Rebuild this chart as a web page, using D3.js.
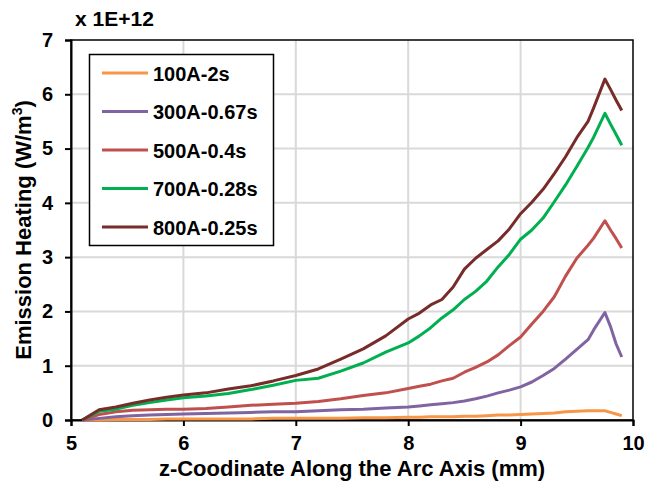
<!DOCTYPE html>
<html>
<head>
<meta charset="utf-8">
<script src="https://cdn.jsdelivr.net/npm/d3@7"></script>
<style>
  body { margin: 0; background: #fff; }
  text { font-family: "Liberation Sans", Arial, sans-serif; font-weight: bold; fill: #000; }
</style>
</head>
<body>
<div id="container"></div>
<script>
var width = 646;
var height = 486;

// z-coordinate (mm), shared by all series
var zvals = [5.1, 5.25, 5.4, 5.55, 5.7, 5.85, 6.0, 6.2, 6.4, 6.6, 6.8, 7.0, 7.2, 7.4, 7.6, 7.8, 8.0,
  8.1, 8.2, 8.3, 8.4, 8.5, 8.6, 8.7, 8.8, 8.9, 9.0, 9.1, 9.2, 9.3, 9.4, 9.5, 9.6, 9.65, 9.75, 9.8, 9.85, 9.9];

// emission heating, x 1E+12 W/m3
var a100 = [0, 0.0, 0.01, 0.01, 0.01, 0.02, 0.02, 0.02, 0.02, 0.02, 0.03, 0.03, 0.03, 0.03, 0.04, 0.04, 0.05,
  0.05, 0.06, 0.06, 0.06, 0.07, 0.07, 0.08, 0.09, 0.09, 0.10, 0.11, 0.12, 0.13, 0.15, 0.16, 0.17, 0.17, 0.17, 0.14, 0.11, 0.08];
var a300 = [0, 0.03, 0.06, 0.08, 0.09, 0.10, 0.11, 0.12, 0.13, 0.14, 0.15, 0.15, 0.17, 0.19, 0.20, 0.22, 0.24,
  0.26, 0.28, 0.30, 0.32, 0.35, 0.39, 0.44, 0.50, 0.55, 0.61, 0.70, 0.82, 0.95, 1.12, 1.30, 1.48, 1.66, 1.98, 1.72, 1.40, 1.16];
var a500 = [0, 0.10, 0.15, 0.18, 0.19, 0.20, 0.20, 0.21, 0.24, 0.27, 0.29, 0.31, 0.34, 0.39, 0.45, 0.50, 0.58,
  0.62, 0.66, 0.72, 0.77, 0.88, 0.97, 1.07, 1.20, 1.37, 1.53, 1.77, 2.00, 2.27, 2.65, 2.98, 3.22, 3.35, 3.67, 3.50, 3.34, 3.17];
var a700 = [0, 0.16, 0.20, 0.27, 0.32, 0.37, 0.41, 0.44, 0.49, 0.56, 0.64, 0.73, 0.77, 0.90, 1.05, 1.25, 1.42,
  1.55, 1.70, 1.88, 2.03, 2.22, 2.37, 2.56, 2.82, 3.05, 3.33, 3.50, 3.72, 4.02, 4.33, 4.67, 5.02, 5.21, 5.65, 5.45, 5.26, 5.06];
var a800 = [0, 0.19, 0.24, 0.31, 0.37, 0.42, 0.46, 0.50, 0.57, 0.63, 0.72, 0.82, 0.94, 1.12, 1.31, 1.55, 1.86,
  1.97, 2.12, 2.22, 2.45, 2.78, 2.98, 3.14, 3.30, 3.52, 3.80, 4.01, 4.25, 4.54, 4.85, 5.20, 5.50, 5.75, 6.28, 6.09, 5.89, 5.70];

var names = ["100A-2s", "300A-0.67s", "500A-0.4s", "700A-0.28s", "800A-0.25s"];
var colors = ["#F79646", "#8064A2", "#C0504D", "#00B050", "#772C2A"];
var xticks = [5, 6, 7, 8, 9, 10];
var yticks = [0, 1, 2, 3, 4, 5, 6, 7];

var series = [a100, a300, a500, a700, a800].map(function(vals, i){
  return { name: names[i], color: colors[i], pts: zvals.map(function(z, j){ return [z, vals[j]]; }) };
});

var pLeft = 71, pRight = 633, pTop = 40, pBottom = 420;

var x = d3.scaleLinear().domain([5, 10]).range([pLeft, pRight]);
var y = d3.scaleLinear().domain([0, 7]).range([pBottom, pTop]);

var svg = d3.select('div#container')
  .append('svg')
  .attr('width', width)
  .attr('height', height);

// gridlines
svg.append('g').selectAll('line')
  .data(yticks.slice(1, -1))
  .enter().append('line')
  .attr('x1', pLeft).attr('x2', pRight)
  .attr('y1', function(d){ return y(d); }).attr('y2', function(d){ return y(d); })
  .attr('stroke', '#d9d9d9').attr('stroke-width', 2);
svg.append('g').selectAll('line')
  .data(xticks.slice(1, -1))
  .enter().append('line')
  .attr('y1', pTop).attr('y2', pBottom)
  .attr('x1', function(d){ return x(d); }).attr('x2', function(d){ return x(d); })
  .attr('stroke', '#d9d9d9').attr('stroke-width', 2);

// plot frame
svg.append('rect')
  .attr('x', pLeft).attr('y', pTop)
  .attr('width', pRight - pLeft).attr('height', pBottom - pTop)
  .attr('fill', 'none').attr('stroke', '#000').attr('stroke-width', 1.5);

// axes
var xAxis = svg.append('g')
  .attr('transform', 'translate(0,' + pBottom + ')')
  .call(d3.axisBottom(x).tickValues(xticks).tickSize(6).tickPadding(10).tickFormat(d3.format('d')));
var yAxis = svg.append('g')
  .attr('transform', 'translate(' + pLeft + ',0)')
  .call(d3.axisLeft(y).tickValues(yticks).tickSize(6).tickPadding(12).tickFormat(d3.format('d')));
[xAxis, yAxis].forEach(function(ax){
  ax.select('.domain').attr('stroke', '#000').attr('stroke-width', 2);
  ax.selectAll('.tick line').attr('stroke', '#000').attr('stroke-width', 2);
  ax.selectAll('.tick text').style('font-size', '20px').style('font-weight', 'bold')
    .style('font-family', '"Liberation Sans", Arial, sans-serif').attr('fill', '#000');
});

// lines
var line = d3.line()
  .x(function(d){ return x(d[0]); })
  .y(function(d){ return y(d[1]); });

svg.append('g').selectAll('path')
  .data(series)
  .enter().append('path')
  .attr('d', function(d){ return line(d.pts); })
  .attr('fill', 'none')
  .attr('stroke', function(d){ return d.color; })
  .attr('stroke-width', 3)
  .attr('stroke-linejoin', 'round');

// legend
var lg = svg.append('g');
lg.append('rect')
  .attr('x', 89.5).attr('y', 54.5).attr('width', 184).attr('height', 191)
  .attr('fill', '#fff').attr('stroke', '#000').attr('stroke-width', 1.5);
var items = lg.selectAll('g.item')
  .data(series)
  .enter().append('g')
  .attr('transform', function(d, i){ return 'translate(0,' + (73 + i * 38.5) + ')'; });
items.append('line')
  .attr('x1', 102).attr('x2', 148)
  .attr('stroke', function(d){ return d.color; })
  .attr('stroke-width', 3);
items.append('text')
  .attr('x', 153).attr('y', 7.5)
  .style('font-size', '20px')
  .text(function(d){ return d.name; });

// titles
svg.append('text')
  .attr('x', 75).attr('y', 26)
  .style('font-size', '21px')
  .text('x 1E+12');

svg.append('text')
  .attr('x', (pLeft + pRight) / 2).attr('y', 476)
  .attr('text-anchor', 'middle')
  .style('font-size', '22px')
  .text('z-Coodinate Along the Arc Axis (mm)');

var yt = svg.append('text')
  .attr('transform', 'translate(31,' + ((pTop + pBottom) / 2) + ') rotate(-90)')
  .attr('text-anchor', 'middle')
  .style('font-size', '22px');
yt.append('tspan').text('Emission Heating (W/m');
yt.append('tspan').attr('dy', -9).style('font-size', '14px').text('3');
yt.append('tspan').attr('dy', 9).text(')');
</script>
</body>
</html>
